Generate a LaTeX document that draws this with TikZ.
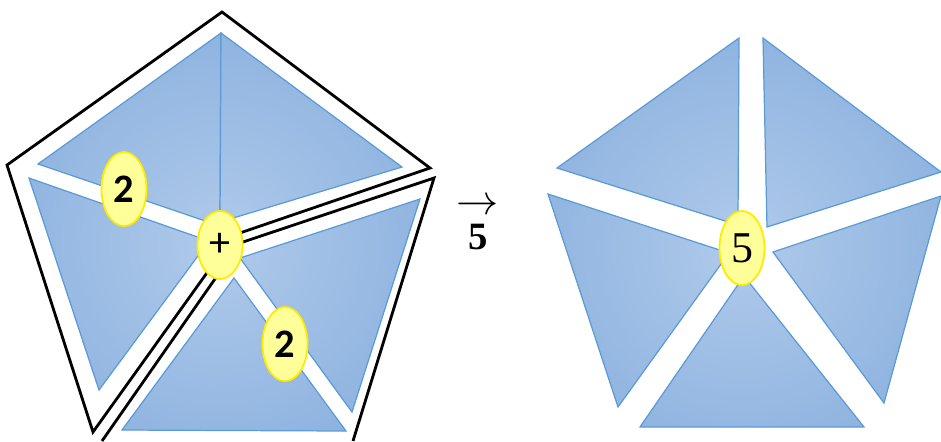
\documentclass[tikz,border=0pt]{standalone}
\usepackage{fontspec}
\newfontfamily\calfont{Carlito}
\newfontfamily\serfont{Liberation Serif}
\usetikzlibrary{shapes.geometric}
\definecolor{tlight}{RGB}{176,202,234}
\definecolor{tdark}{RGB}{136,175,222}
\definecolor{tedge}{RGB}{91,155,213}
\definecolor{badgefill}{RGB}{255,255,153}
\definecolor{badgeedge}{RGB}{255,235,0}

\begin{document}
\begin{tikzpicture}[x=0.01cm, y=-0.01cm,
  tri/.style={draw=tedge, line width=0.35pt, line join=miter},
  outline/.style={draw=black, line width=0.8pt, line join=miter},
  badge/.style={ellipse, draw=badgeedge, fill=badgefill, line width=0.5pt, minimum width=0.45cm, minimum height=0.74cm, inner sep=0pt}]
\useasboundingbox (0,0) rectangle (941,441);

% left pentagon, pieces with gaps
\foreach \ax/\ay/\bx/\by/\cx/\cy in {38/164/221/33/220/226, 221/33/402/167/220/222, 29/178/99/390/209/241, 122/430/346/431/234/278, 420/199/352/412/240/258}{
  \begin{scope}
    \clip (\ax,\ay) -- (\bx,\by) -- (\cx,\cy) -- cycle;
    \shade[inner color=tlight, outer color=tdark] (220,245) circle (260);
  \end{scope}
  \draw[tri] (\ax,\ay) -- (\bx,\by) -- (\cx,\cy) -- cycle;
}

% the two groups
\draw[outline] (7,165) -- (222,12) -- (430,168) -- (234,235) -- (93,432) -- cycle;
\draw[outline] (102,441) -- (240,243) -- (434,178) -- (353,441);

\node[badge] (twoa) at (124,189) {\calfont\fontsize{11.5}{13}\selectfont\bfseries 2};
\node[badge, minimum height=0.68cm] (sum) at (220,245) {\calfont\fontsize{12}{14}\selectfont +};
\node[badge] (twob) at (285,344) {\calfont\fontsize{11.5}{13}\selectfont\bfseries 2};

% step label
\node (arw) at (478,207) {\fontsize{13}{15}\selectfont$\rightarrow$};
\node (cnt) at (478,237) {\serfont\fontsize{11}{13}\selectfont\bfseries 5};

% right pentagon, all five pieces apart
\foreach \ax/\ay/\bx/\by/\cx/\cy in {557/168/739/38/738/225, 763/38/941/172/767/227, 548/194/618/407/729/253, 640/427/864/427/744/276, 941/196/884/403/773/252}{
  \begin{scope}
    \clip (\ax,\ay) -- (\bx,\by) -- (\cx,\cy) -- cycle;
    \shade[inner color=tlight, outer color=tdark] (742,248) circle (260);
  \end{scope}
  \draw[tri] (\ax,\ay) -- (\bx,\by) -- (\cx,\cy) -- cycle;
}

\node[badge] (total) at (742,248) {\serfont\fontsize{12.5}{14}\selectfont 5};
\end{tikzpicture}
\end{document}
